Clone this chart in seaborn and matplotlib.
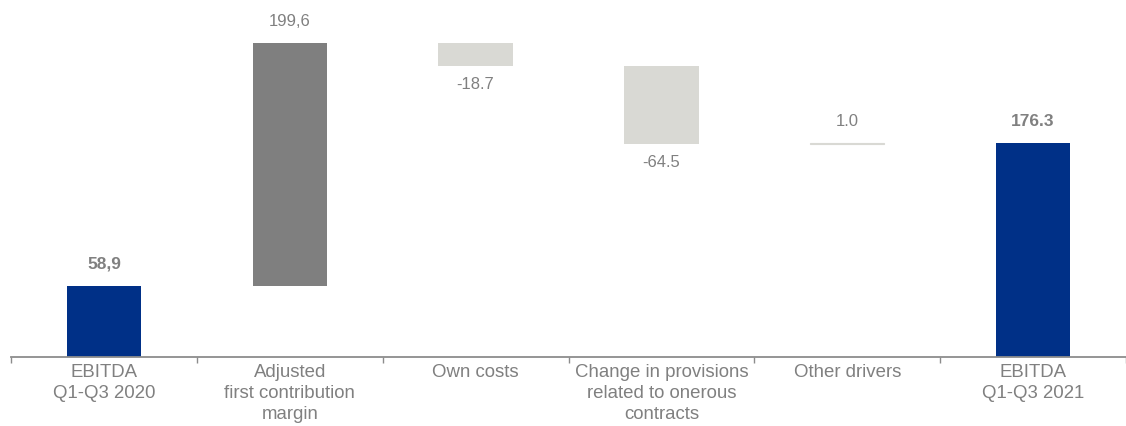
import matplotlib
matplotlib.use("Agg")
import matplotlib.pyplot as plt
import numpy as np
import pandas as pd
import seaborn as sns

# Data
categories = ["EBITDA\nQ1-Q3 2020", "Adjusted\nfirst contribution\nmargin", "Own costs",
              "Change in provisions\nrelated to onerous\ncontracts", "Other drivers",
              "EBITDA\nQ1-Q3 2021"]
changes = [58.9, 199.6, -18.7, -64.5, 1.0, 176.3]
kinds = ["total", "up", "down", "down", "up", "total"]
value_labels = ["58,9", "199,6", "-18.7", "-64.5", "1.0", "176.3"]

colors = {"total": "#003087", "up": "#7F7F7F", "down": "#D9D9D4"}
colors_other = "#D9D9D4"  # "Other drivers" is drawn in the light tone
text_gray = "#808080"

# waterfall bottoms / heights
bottoms, heights = [], []
level = 0.0
for v, k in zip(changes, kinds):
    if k == "total":
        bottoms.append(0.0)
        heights.append(v)
        level = v
    else:
        start = level
        level = level + v
        bottoms.append(min(start, level))
        heights.append(abs(v))
df = pd.DataFrame({"category": categories, "height": heights})

sns.set_style("white")
plt.rcParams["font.family"] = ["Liberation Sans", "DejaVu Sans"]

fig = plt.figure(figsize=(11.26, 4.26), dpi=100)
ax = fig.add_axes([0.0098, 0.161, 0.9902, 0.839])

sns.barplot(data=df, x="category", y="height", bottom=np.array(bottoms),
            width=0.40, color="#7F7F7F", linewidth=0, ax=ax)

for i, (p, k) in enumerate(zip(ax.patches, kinds)):
    c = colors[k]
    if i == 4:
        c = colors_other
        p.set_edgecolor(c)
        p.set_linewidth(0.8)
    p.set_facecolor(c)

# value labels
for i, (p, k, lab) in enumerate(zip(ax.patches, kinds, value_labels)):
    xc = p.get_x() + p.get_width() / 2
    bold = k == "total"
    if changes[i] >= 0:
        ax.annotate(lab, (xc, p.get_y() + p.get_height()), xytext=(0, 10),
                    textcoords="offset points", ha="center", va="bottom",
                    fontsize=12.5 if bold else 12, color=text_gray,
                    fontweight="bold" if bold else "normal")
    else:
        ax.annotate(lab, (xc, p.get_y()), xytext=(0, -8),
                    textcoords="offset points", ha="center", va="top",
                    fontsize=12, color=text_gray)

ax.set_ylim(0, 294)
ax.set_xlim(-0.5, 5.5)
ax.set_xlabel("")
ax.set_ylabel("")
ax.set_yticks([])
for s in ["top", "right", "left"]:
    ax.spines[s].set_visible(False)
ax.spines["bottom"].set_color("#8C8C8C")
ax.spines["bottom"].set_linewidth(1.3)

ax.set_xticks(np.arange(-0.5, 6.0, 1.0), minor=True)
ax.tick_params(axis="x", which="minor", length=4, width=1, color="#8C8C8C", bottom=True)
ax.tick_params(axis="x", which="major", length=0, pad=5, labelsize=13.4, labelcolor=text_gray)
for t in ax.get_xticklabels():
    t.set_linespacing(1.3)

fig.savefig("out.png", dpi=100)
